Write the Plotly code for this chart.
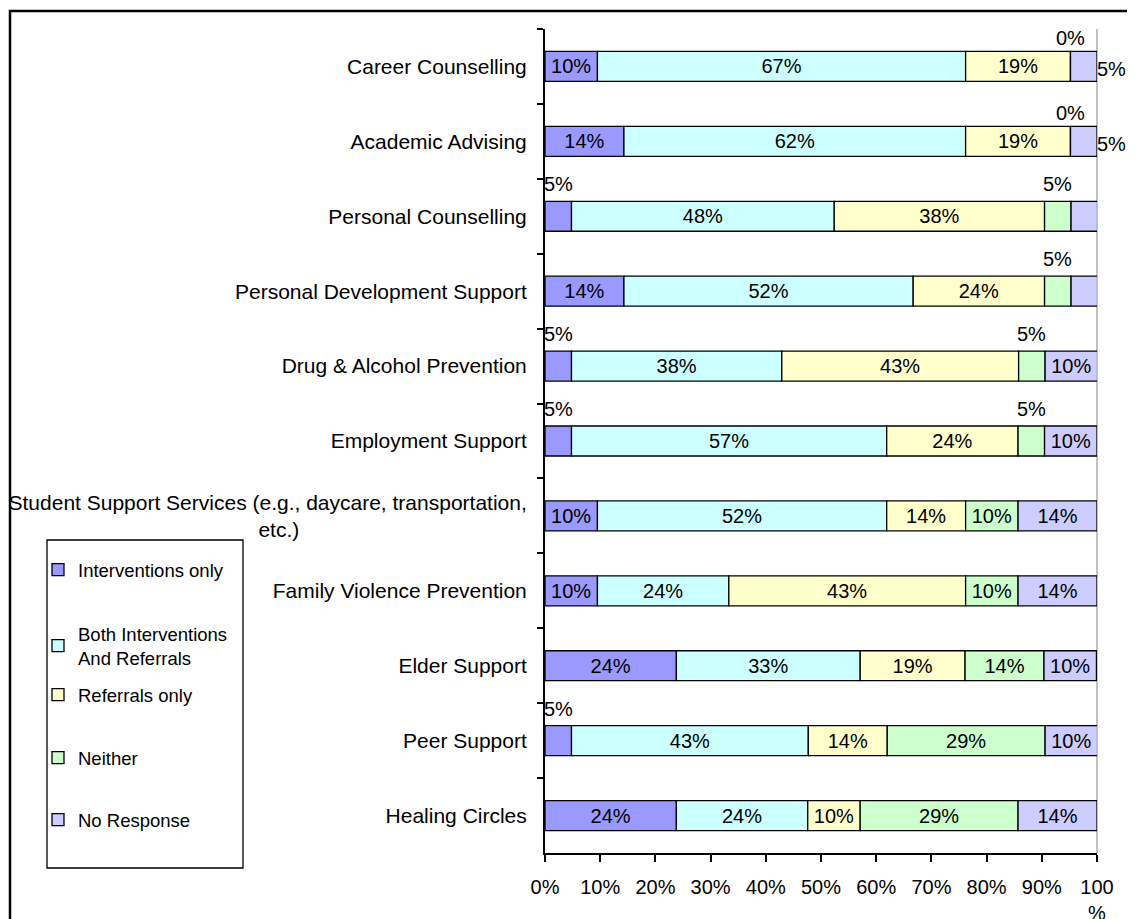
import plotly.graph_objects as go

categories = [
    "Career Counselling",
    "Academic Advising",
    "Personal Counselling",
    "Personal Development Support",
    "Drug & Alcohol Prevention",
    "Employment Support",
    "Student Support Services (e.g., daycare, transportation,<br>etc.)" + "\u00a0" * 39,
    "Family Violence Prevention",
    "Elder Support",
    "Peer Support",
    "Healing Circles",
]

series_names = ["Interventions only", "Both Interventions<br>And Referrals",
                "Referrals only", "Neither", "No Response"]
colors = ["#9999FF", "#CCFFFF", "#FFFFCC", "#CCFFCC", "#CCCCFF"]

interventions_only = [9.5, 14.3, 4.8, 14.3, 4.8, 4.8, 9.5, 9.5, 23.8, 4.8, 23.8]
both = [66.7, 61.9, 47.6, 52.4, 38.1, 57.1, 52.4, 23.8, 33.3, 42.9, 23.8]
referrals_only = [19.0, 19.0, 38.1, 23.8, 42.9, 23.8, 14.3, 42.9, 19.0, 14.3, 9.5]
neither = [0.0, 0.0, 4.8, 4.8, 4.8, 4.8, 9.5, 9.5, 14.3, 28.6, 28.6]
no_response = [4.8, 4.8, 4.8, 4.8, 9.5, 9.5, 14.3, 14.3, 9.5, 9.5, 14.3]

series_values = [interventions_only, both, referrals_only, neither, no_response]

x_tickvals = [0, 10, 20, 30, 40, 50, 60, 70, 80, 90, 100]
x_ticktext = ["0%", "10%", "20%", "30%", "40%", "50%", "60%", "70%", "80%", "90%", "100<br>%"]

FONT = "Liberation Sans, Arial, sans-serif"
FS = 21
LFS = 18.5

# The page body adds an 8px margin, so the figure is drawn 8px smaller and all
# page-pixel positions are converted into figure pixels.
OFF = 8
W, H = 1135 - OFF, 919 - OFF
L, R, T, B = 545 - OFF, 1097 - OFF, 29 - OFF, 853 - OFF


def px_x(p):
    return (p - OFF - L) / (R - L)


def px_y(p):
    return (B - (p - OFF)) / (B - T)


fig = go.Figure()
annotations = []
legend_centers = [570, 646, 695, 758, 820]
cum = [0.0] * len(categories)
for i, (name, vals, col) in enumerate(zip(series_names, series_values, colors)):
    texts = [f"{round(v)}%" if v >= 7 else "" for v in vals]
    legend_key = "legend" if i == 0 else f"legend{i + 1}"
    fig.add_trace(go.Bar(
        y=categories, x=vals, base=cum[:], orientation="h", name=name,
        marker=dict(color=col, line=dict(color="black", width=1.3)),
        width=0.4, text=texts, textposition="inside", insidetextanchor="middle",
        textangle=0, constraintext="none",
        textfont=dict(family=FONT, size=FS - 1, color="black"),
        legend=legend_key, showlegend=True, hoverinfo="skip",
    ))
    last = i == len(series_names) - 1
    for j, v in enumerate(vals):
        if v < 7:
            if last:
                annotations.append(dict(
                    x=cum[j] + v, y=categories[j], xref="x", yref="y",
                    text=f"{round(v)}%", showarrow=False, xanchor="left",
                    xshift=-2, yshift=-3,
                    font=dict(family=FONT, size=FS - 1, color="black")))
            else:
                annotations.append(dict(
                    x=cum[j] + v / 2, y=categories[j], xref="x", yref="y",
                    text=f"{round(v)}%", showarrow=False, xanchor="center",
                    yshift=32 if v > 0 else 28,
                    font=dict(family=FONT, size=FS - 1, color="black")))
    cum = [c + v for c, v in zip(cum, vals)]

legend_layout = {}
for i, cy in enumerate(legend_centers):
    key = "legend" if i == 0 else f"legend{i + 1}"
    legend_layout[key] = dict(
        x=px_x(38), y=px_y(cy), xanchor="left", yanchor="middle",
        bgcolor="rgba(0,0,0,0)", borderwidth=0,
        font=dict(family=FONT, size=LFS, color="black"),
        itemclick=False, itemdoubleclick=False, visible=True,
    )

shapes = [
    # outer chart border
    dict(type="rect", xref="paper", yref="paper",
         x0=px_x(10), x1=px_x(1135 + 30), y0=px_y(919 + 30), y1=px_y(11),
         line=dict(color="black", width=2.5), fillcolor="rgba(0,0,0,0)", layer="below"),
    # legend box
    dict(type="rect", xref="paper", yref="paper",
         x0=px_x(47), x1=px_x(243), y0=px_y(868), y1=px_y(540),
         line=dict(color="black", width=1.3), fillcolor="white", layer="below"),
    # right plot-area edge
    dict(type="line", xref="paper", yref="paper", x0=1, x1=1, y0=0, y1=1,
         line=dict(color="#A0A0A0", width=1.3), layer="below"),
]

fig.update_layout(
    width=W, height=H,
    margin=dict(l=L, r=W - R, t=T, b=H - B, pad=0, autoexpand=False),
    barmode="overlay",
    showlegend=True,
    paper_bgcolor="white", plot_bgcolor="white",
    font=dict(family=FONT, size=FS, color="black"),
    annotations=annotations,
    shapes=shapes,
    **legend_layout,
)
fig.update_xaxes(
    range=[0, 100], tickvals=x_tickvals, ticktext=x_ticktext,
    showgrid=False, zeroline=False, showline=True, linecolor="black", linewidth=2,
    ticks="outside", ticklen=7, tickwidth=1.5, tickcolor="black",
    ticklabelstandoff=8, automargin=False,
    tickfont=dict(family=FONT, size=FS - 1, color="black"),
    fixedrange=True,
)
fig.update_yaxes(
    autorange="reversed", tickson="boundaries",
    showgrid=False, zeroline=False, showline=True, linecolor="black", linewidth=2,
    ticks="outside", ticklen=6, tickwidth=1.5, tickcolor="black",
    ticklabelstandoff=12, automargin=False,
    tickfont=dict(family=FONT, size=FS, color="black"),
    fixedrange=True,
)

fig.write_html("out.html")
